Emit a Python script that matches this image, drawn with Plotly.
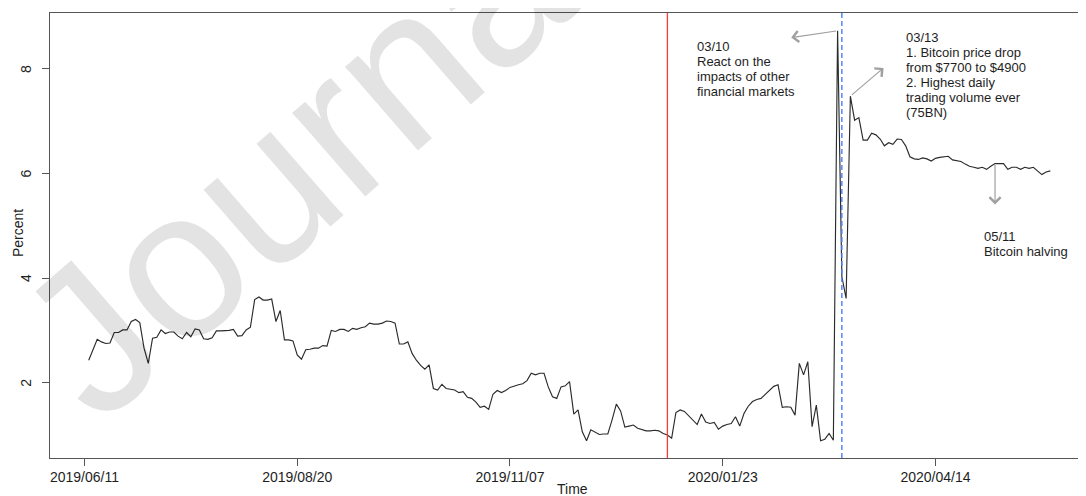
import plotly.graph_objects as go

# ---------------- data ----------------
percent = [
    2.43, 2.65, 2.83, 2.78, 2.75, 2.76, 2.96, 2.96, 3.01, 3.01,
    3.17, 3.21, 3.15, 2.66, 2.37, 2.85, 2.87, 3.01, 2.94, 2.97,
    2.97, 2.89, 2.84, 2.96, 2.88, 3.03, 3.01, 2.84, 2.83, 2.86,
    2.99, 2.99, 2.99, 3.00, 3.02, 2.89, 2.90, 3.01, 3.06, 3.59,
    3.64, 3.58, 3.58, 3.60, 3.17, 3.38, 2.82, 2.82, 2.80, 2.53,
    2.45, 2.63, 2.64, 2.66, 2.66, 2.71, 2.70, 3.00, 2.98, 3.02,
    3.02, 2.98, 3.04, 3.02, 3.05, 3.07, 3.14, 3.12, 3.12, 3.14,
    3.18, 3.17, 3.14, 2.74, 2.74, 2.78, 2.56, 2.43, 2.33, 2.26,
    2.34, 1.89, 1.86, 1.97, 1.89, 1.88, 1.86, 1.81, 1.83, 1.72,
    1.70, 1.63, 1.53, 1.55, 1.49, 1.78, 1.85, 1.81, 1.85, 1.91,
    1.94, 1.96, 1.98, 2.04, 2.18, 2.15, 2.18, 2.18, 1.92, 1.73,
    1.70, 1.92, 1.94, 2.02, 1.40, 1.48, 1.06, 0.89, 1.10, 1.06,
    1.01, 1.02, 1.02, 1.29, 1.59, 1.46, 1.15, 1.17, 1.19, 1.13,
    1.11, 1.08, 1.08, 1.09, 1.08, 1.03, 1.00, 0.94, 1.43, 1.48,
    1.45, 1.36, 1.29, 1.20, 1.40, 1.25, 1.22, 1.24, 1.11, 1.17,
    1.20, 1.22, 1.35, 1.17, 1.41, 1.55, 1.64, 1.68, 1.70, 1.78,
    1.85, 1.93, 1.96, 1.53, 1.54, 1.53, 1.38, 2.37, 2.15, 2.40,
    1.16, 1.57, 0.89, 0.92, 1.03, 0.90, 8.73, 4.03, 3.61, 7.48,
    7.02, 7.07, 6.64, 6.64, 6.77, 6.74, 6.66, 6.53, 6.59, 6.56,
    6.66, 6.65, 6.53, 6.32, 6.28, 6.27, 6.30, 6.28, 6.24, 6.29,
    6.31, 6.32, 6.33, 6.26, 6.24, 6.23, 6.18, 6.14, 6.12, 6.10,
    6.12, 6.08, 6.14, 6.19, 6.19, 6.19, 6.08, 6.12, 6.12, 6.08,
    6.12, 6.10, 6.12, 6.05, 5.98, 6.03, 6.05,
]
obs = list(range(1, len(percent) + 1))

x_tick_pos = [0, 50, 100, 150, 200]
x_tick_labels = ["2019/06/11", "2019/08/20", "2019/11/07", "2020/01/23", "2020/04/14"]
y_tick_vals = [2, 4, 6, 8]

red_line_obs = 137
blue_line_obs = 178
event_0310_obs = 177
event_0313_obs = 180
event_0511_obs = 214

note_0310 = ["03/10", "React on the", "impacts of other", "financial markets"]
note_0313 = ["03/13", "1. Bitcoin price drop", "from $7700 to $4900",
             "2. Highest daily", "trading volume ever", "(75BN)"]
note_0511 = ["05/11", "Bitcoin halving"]

# ---------------- geometry ----------------
# the page body has an 8px margin, so the figure starts 8px right/down
OFF = 8
W, H = 1086, 496
PLOT_L, PLOT_T, PLOT_B = 50, 13, 458          # page pixels
ML, MR, MT = PLOT_L - OFF, 0, PLOT_T - OFF
MB = H - (PLOT_B - OFF)
PW, PH = W - ML - MR, H - MT - MB
PX_PER_OBS = 4.255


def px_x(x):
    return (x - PLOT_L) / PW


def px_y(y):
    return (PLOT_B - y) / PH


FONT = "Liberation Sans, Arial, Helvetica, sans-serif"
INK = "#1e1e1e"
LINE = "#2b2b2b"
FRAME = "#555555"
ARROW = "#a0a0a0"

fig = go.Figure()
fig.add_trace(go.Scatter(
    x=obs, y=percent, mode="lines",
    line=dict(color=LINE, width=1.15),
    hoverinfo="skip", showlegend=False,
))

shapes = [
    dict(type="line", xref="x", yref="paper", x0=red_line_obs, x1=red_line_obs,
         y0=0, y1=1, line=dict(color="#ff3b3b", width=1.3), layer="above"),
    dict(type="line", xref="x", yref="paper", x0=blue_line_obs, x1=blue_line_obs,
         y0=0, y1=1, line=dict(color="#4a7dff", width=1.4, dash="5px,3px"), layer="above"),
]

annotations = []

# watermark
annotations.append(dict(
    text="Journal", xref="paper", yref="paper", x=px_x(311), y=px_y(148),
    xanchor="center", yanchor="middle", showarrow=False, textangle=-41,
    font=dict(family=FONT, size=210, color="rgba(0,0,0,0.11)"),
))

# y tick labels (rotated, R style), placed on the y scale
for v in y_tick_vals:
    annotations.append(dict(
        text=str(v), xref="paper", yref="y", x=px_x(26), y=v,
        xanchor="center", yanchor="middle", showarrow=False, textangle=-90,
        font=dict(family=FONT, size=14, color=INK),
    ))


def add_block(lines, x_left, y_first, step=15.1):
    for i, t in enumerate(lines):
        annotations.append(dict(
            text=t, xref="paper", yref="paper", x=px_x(x_left), y=px_y(y_first + i * step),
            xanchor="left", yanchor="middle", showarrow=False,
            font=dict(family=FONT, size=13, color=INK),
        ))


add_block(note_0310, 695, 46)
add_block(note_0313, 904, 37.3)
add_block(note_0511, 982, 236.7)


def add_arrow(tail_obs, head_x, head_y):
    annotations.append(dict(
        text="", x=head_x, y=head_y, xref="x", yref="y",
        ax=tail_obs, ay=percent[tail_obs - 1], axref="x", ayref="y",
        showarrow=True, arrowhead=4, arrowsize=1.8, arrowwidth=1.2,
        arrowcolor=ARROW, standoff=0, startstandoff=0,
    ))


add_arrow(event_0310_obs, 166.1, 8.60)
add_arrow(event_0313_obs, 187.8, 8.02)
add_arrow(event_0511_obs, event_0511_obs, 5.41)

# axis titles
annotations.append(dict(
    text="Time", xref="paper", yref="paper", x=px_x(572), y=px_y(489),
    xanchor="center", yanchor="middle", showarrow=False,
    font=dict(family=FONT, size=14, color=INK),
))
annotations.append(dict(
    text="Percent", xref="paper", yref="paper", x=px_x(18), y=px_y(233),
    xanchor="center", yanchor="middle", showarrow=False, textangle=-90,
    font=dict(family=FONT, size=14, color=INK),
))

x0 = -8.1
fig.update_layout(
    width=W, height=H,
    margin=dict(l=ML, r=MR, t=MT, b=MB, pad=0),
    paper_bgcolor="white", plot_bgcolor="white",
    font=dict(family=FONT, size=14, color=INK),
    shapes=shapes, annotations=annotations,
    showlegend=False,
)
fig.update_xaxes(
    range=[x0, x0 + PW / PX_PER_OBS], showgrid=False, zeroline=False,
    showline=True, linecolor=FRAME, linewidth=1.3, mirror=True,
    ticks="outside", ticklen=7, tickwidth=1.2, tickcolor=FRAME,
    tickvals=x_tick_pos, ticktext=x_tick_labels, tickfont=dict(size=14),
    ticklabelstandoff=-1,
)
fig.update_yaxes(
    range=[0.56, 9.07], showgrid=False, zeroline=False,
    showline=True, linecolor=FRAME, linewidth=1.3, mirror=False,
    ticks="outside", ticklen=7, tickwidth=1.2, tickcolor=FRAME,
    tickvals=y_tick_vals, showticklabels=False,
)

fig.write_html("out.html")
